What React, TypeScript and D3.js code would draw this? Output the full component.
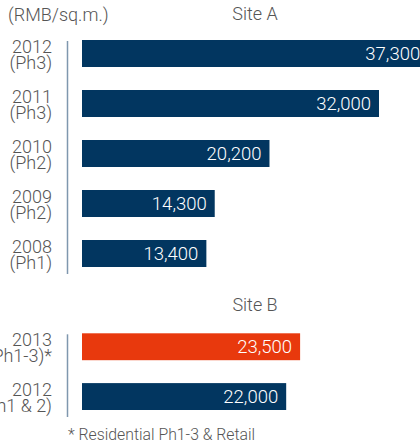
import React from "react";
import * as d3 from "d3";

const siteACategories = ["2012|(Ph3)", "2011|(Ph3)", "2010|(Ph2)", "2009|(Ph2)", "2008|(Ph1)"];
const siteAValues = [37300, 32000, 20200, 14300, 13400];
const siteBCategories = ["2013|(Ph1-3)*", "2012|(Ph1 & 2)"];
const siteBValues = [23500, 22000];
const siteBHighlight = [true, false];
const unitLabel = "(RMB/sq.m.)";
const footnote = "* Residential Ph1-3 & Retail";

const W = 420;
const H = 443;
const NAVY = "#023660";
const ORANGE = "#e8390d";
const GRAY = "#555555";
const AXIS = "#7f97ae";
const FONT = "Roboto, 'Liberation Sans', sans-serif";

const x = d3.scaleLinear().domain([0, 32000]).range([82, 379]);
const fmt = d3.format(",");

function Group({ cats, vals, highlight, y0, y1, title, titleY }: any) {
  const y = d3.scaleBand<string>().domain(cats).range([y0, y1]).paddingInner(0.46).paddingOuter(0);
  return (
    <g>
      <text x={255} y={titleY} textAnchor="middle" fontSize={18} fill={GRAY} fontFamily={FONT} fontWeight={300}>
        {title}
      </text>
      <line x1={67.5} x2={67.5} y1={y0 + 1} y2={y1 + 7} stroke={AXIS} strokeWidth={1.5} />
      {cats.map((c: string, i: number) => {
        const [l1, l2] = c.split("|");
        const top = y(c) as number;
        const bw = y.bandwidth();
        const cy = top + bw / 2;
        const xe = x(vals[i]);
        return (
          <g key={c}>
            <rect x={x(0)} y={top} width={xe - x(0)} height={bw} fill={highlight && highlight[i] ? ORANGE : NAVY} />
            <text x={xe - 8} y={cy} dy="0.36em" textAnchor="end" fontSize={18.5} fill="#ffffff" fontFamily={FONT} fontWeight={300}>
              {fmt(vals[i])}
            </text>
            <text x={52} y={cy - 1} textAnchor="end" fontSize={18} fill={GRAY} fontFamily={FONT} fontWeight={300}>
              {l1}
            </text>
            <text x={52} y={cy + 15} textAnchor="end" fontSize={18} fill={GRAY} fontFamily={FONT} fontWeight={300}>
              {l2}
            </text>
          </g>
        );
      })}
    </g>
  );
}

export default function App() {
  return (
    <svg width={W} height={H} style={{ position: "absolute", left: 0, top: 0, background: "#fff" }}>
      <text x={8} y={21} fontSize={18} fill={GRAY} fontFamily={FONT} fontWeight={300}>
        {unitLabel}
      </text>
      <Group cats={siteACategories} vals={siteAValues} y0={40} y1={267} title="Site A" titleY={20} />
      <Group cats={siteBCategories} vals={siteBValues} highlight={siteBHighlight} y0={333.3} y1={410} title="Site B" titleY={311} />
      <text x={68} y={440} fontSize={15.8} fill={GRAY} fontFamily={FONT} fontWeight={300}>
        {footnote}
      </text>
    </svg>
  );
}
